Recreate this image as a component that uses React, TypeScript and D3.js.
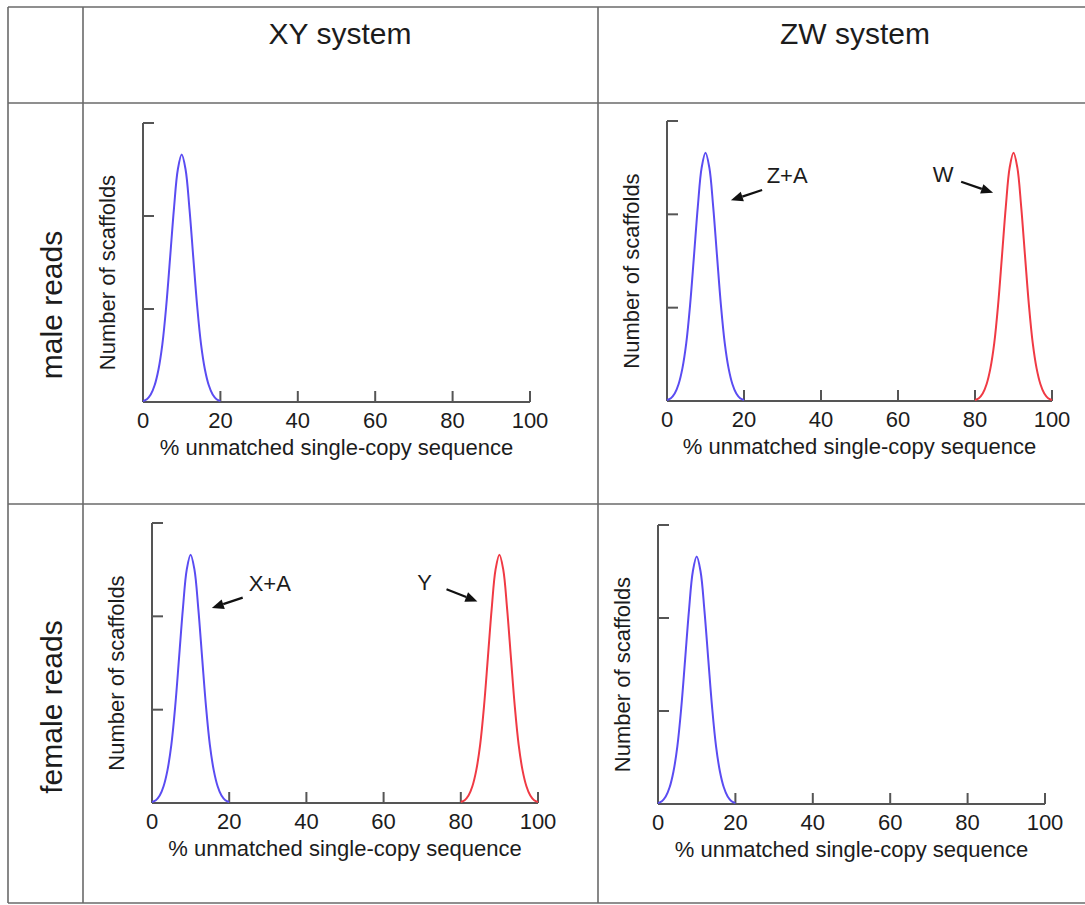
import React from 'react';
import * as d3 from 'd3';

// ---- data ----
const xTicks = [0, 20, 40, 60, 80, 100];
const yTicks = [100, 200, 300];
const blueX = [0, 1, 2, 3, 4, 5, 6, 7, 8, 9, 10, 11, 12, 13, 14, 15, 16, 17, 18, 19, 20];
const blueY = [1, 3, 8, 18, 35, 62, 103, 155, 208, 250, 266, 250, 208, 155, 103, 62, 35, 18, 8, 3, 1];
const redX = [80, 81, 82, 83, 84, 85, 86, 87, 88, 89, 90, 91, 92, 93, 94, 95, 96, 97, 98, 99, 100];
const redY = [1, 3, 8, 18, 35, 62, 103, 155, 208, 250, 266, 250, 208, 155, 103, 62, 35, 18, 8, 3, 1];
const columnTitles = ['XY system', 'ZW system'];
const rowTitles = ['male reads', 'female reads'];
const xAxisTitle = '% unmatched single-copy sequence';
const yAxisTitle = 'Number of scaffolds';
// panels: 0 male XY, 1 male ZW, 2 female XY, 3 female ZW
const panelHasRed = [false, true, true, false];
const annLabels = ['Z+A', 'W', 'X+A', 'Y'];
const annPanel = [1, 1, 2, 2];
const annTextX = [31.2, 71.7, 30.5, 70.6];
const annTextY = [242, 243, 236, 237];
const annFromX = [24.7, 76.4, 23.5, 76.3];
const annFromY = [226, 235, 220, 229];
const annToX = [16.6, 84.7, 15.5, 84.3];
const annToY = [215, 223, 209, 216];

// ---- layout ----
const W = 1085;
const H = 905;
const FONT = 'Liberation Sans, Arial, sans-serif';
const BLUE = '#5a4cf2';
const RED = '#f03a44';
const AXIS = '#555555';
const GRID = '#6a6a6a';
const TEXT = '#1c1c1c';

const panels = [
  { x0: 143, x1: 530, yb: 402, yt: 123 },
  { x0: 667, x1: 1052, yb: 401, yt: 121 },
  { x0: 152, x1: 538, yb: 803, yt: 523 },
  { x0: 658, x1: 1045, yb: 804, yt: 525 },
];

function Panel({ idx }: { idx: number }) {
  const p = panels[idx];
  const xs = d3.scaleLinear().domain([0, 100]).range([p.x0, p.x1]);
  const ys = d3.scaleLinear().domain([0, 300]).range([p.yb, p.yt]);
  const line = d3
    .line<[number, number]>()
    .x((d) => xs(d[0]))
    .y((d) => ys(d[1]))
    .curve(d3.curveCatmullRom.alpha(0.5));
  const blue = line(blueX.map((x, i) => [x, blueY[i]] as [number, number])) || '';
  const red = line(redX.map((x, i) => [x, redY[i]] as [number, number])) || '';
  const tickLen = 11;
  const anns = annLabels
    .map((l, i) => ({ l, i }))
    .filter((a) => annPanel[a.i] === idx);
  return (
    <g>
      {/* axes */}
      <line x1={p.x0} x2={p.x0} y1={ys(0)} y2={ys(300)} stroke={AXIS} strokeWidth={2} />
      <line x1={xs(0)} x2={xs(100)} y1={p.yb} y2={p.yb} stroke={AXIS} strokeWidth={2} />
      {yTicks.map((t) => (
        <line key={'yt' + t} x1={p.x0} x2={p.x0 + tickLen} y1={ys(t)} y2={ys(t)} stroke={AXIS} strokeWidth={2} />
      ))}
      {xTicks.map((t) => (
        <g key={'xt' + t}>
          {t > 0 && (
            <line x1={xs(t)} x2={xs(t)} y1={p.yb} y2={p.yb - tickLen} stroke={AXIS} strokeWidth={2} />
          )}
          <text
            x={xs(t)}
            y={p.yb + 26}
            textAnchor="middle"
            fontSize={22}
            fontFamily={FONT}
            fill={TEXT}
          >
            {t}
          </text>
        </g>
      ))}
      <text
        x={(xs(0) + xs(100)) / 2}
        y={p.yb + 53}
        textAnchor="middle"
        fontSize={22}
        fontFamily={FONT}
        fill={TEXT}
      >
        {xAxisTitle}
      </text>
      <text
        transform={`translate(${p.x0 - 28},${(p.yb + p.yt) / 2 + 10}) rotate(-90)`}
        textAnchor="middle"
        fontSize={22}
        fontFamily={FONT}
        fill={TEXT}
      >
        {yAxisTitle}
      </text>
      {/* curves */}
      <path d={blue} fill="none" stroke={BLUE} strokeWidth={2} />
      {panelHasRed[idx] && <path d={red} fill="none" stroke={RED} strokeWidth={2} />}
      {/* annotations */}
      {anns.map(({ l, i }) => {
        const fx = xs(annFromX[i]);
        const fy = ys(annFromY[i]);
        const tx = xs(annToX[i]);
        const ty = ys(annToY[i]);
        const ang = Math.atan2(ty - fy, tx - fx);
        const hl = 12;
        const hw = 5;
        const bx = tx - hl * Math.cos(ang);
        const by = ty - hl * Math.sin(ang);
        const px = -Math.sin(ang) * hw;
        const py = Math.cos(ang) * hw;
        return (
          <g key={'ann' + i}>
            <text
              x={xs(annTextX[i])}
              y={ys(annTextY[i]) + 8}
              textAnchor="middle"
              fontSize={22}
              fontFamily={FONT}
              fill={TEXT}
            >
              {l}
            </text>
            <line x1={fx} y1={fy} x2={bx} y2={by} stroke="#111" strokeWidth={2.2} />
            <polygon
              points={`${tx},${ty} ${bx + px},${by + py} ${bx - px},${by - py}`}
              fill="#111"
            />
          </g>
        );
      })}
    </g>
  );
}

export default function App() {
  const vLines = [8, 83, 598];
  const hLines = [7, 103, 504, 903];
  return (
    <svg
      width={W}
      height={H}
      style={{ position: 'absolute', left: 0, top: 0, background: '#fff' }}
    >
      <rect x={0} y={0} width={W} height={H} fill="#fff" />
      {vLines.map((x) => (
        <line key={'v' + x} x1={x} x2={x} y1={7} y2={903} stroke={GRID} strokeWidth={1.6} />
      ))}
      {hLines.map((y) => (
        <line key={'h' + y} x1={8} x2={W} y1={y} y2={y} stroke={GRID} strokeWidth={1.6} />
      ))}
      {columnTitles.map((t, i) => (
        <text
          key={t}
          x={i === 0 ? 340 : 855}
          y={44}
          textAnchor="middle"
          fontSize={30}
          fontFamily={FONT}
          fill={TEXT}
        >
          {t}
        </text>
      ))}
      {rowTitles.map((t, i) => (
        <text
          key={t}
          transform={`translate(${62},${i === 0 ? 305 : 707}) rotate(-90)`}
          textAnchor="middle"
          fontSize={30}
          fontFamily={FONT}
          fill={TEXT}
        >
          {t}
        </text>
      ))}
      {panels.map((_, i) => (
        <Panel key={i} idx={i} />
      ))}
    </svg>
  );
}
